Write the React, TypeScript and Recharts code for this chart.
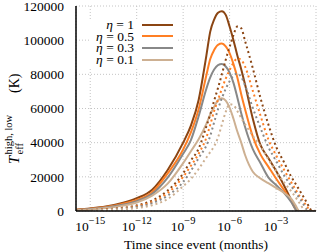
import { LineChart, Line, XAxis, YAxis, CartesianGrid, Label } from "recharts"

const SERIF = 'Liberation Serif, "Times New Roman", Times, serif'

// log10 of time since event (months)
const logTime = [
  -15.92, -15, -14, -13, -12, -11, -10, -9, -8.5, -8, -7.5, -7.25, -7, -6.75, -6.5, -6.25, -6,
  -5.75, -5.5, -5.25, -5, -4.5, -4, -3.5, -3, -2.5, -2, -1.75, -1.5, -1.25, -1, -0.75, -0.42,
]

// solid curves (T_eff high)
const eta1High = [
  800, 1500, 2600, 4500, 7500, 12500, 24000, 40000, 50000, 65000, 91000, 105000, 112000, 116000, 117000, 114800, 108000,
  100000, 91000, 83000, 74000, 54000, 38500, 31000, 23500, 15200, 6000, 1500, 0, 0, 0, 0, 0,
]
const eta05High = [
  700, 1300, 2300, 4000, 6500, 11000, 22000, 36000, 46000, 59500, 79500, 89000, 94200, 97300, 98000, 96300, 92400,
  86000, 78200, 68400, 59500, 43500, 33000, 26000, 19000, 12500, 5500, 1200, 0, 0, 0, 0, 0,
]
const eta03High = [
  600, 1100, 2000, 3500, 5800, 10000, 19500, 33500, 41500, 55500, 71600, 78200, 82800, 85400, 86000, 84600, 81000,
  75000, 66500, 57200, 49200, 36200, 28000, 19700, 15200, 10800, 5000, 1200, 0, 0, 0, 0, 0,
]
const eta01High = [
  500, 900, 1700, 3000, 5000, 9000, 16000, 28000, 35000, 42000, 51000, 56500, 61000, 64800, 66000, 64600, 60500,
  54000, 46500, 40000, 32800, 23000, 19000, 16300, 13500, 10700, 7000, 3500, 0, 0, 0, 0, 0,
]

// dotted curves (T_eff low)
const eta1Low = [
  300, 550, 1000, 1800, 3200, 6200, 12000, 22000, 29500, 36500, 49500, 56500, 64500, 72000, 80000, 88500, 96000,
  103000, 108000, 107000, 99500, 83500, 66000, 50800, 37800, 28800, 19800, 16100, 12400, 8600, 4700, 800, 0,
]
const eta05Low = [
  250, 500, 900, 1500, 2800, 5300, 10500, 20000, 26500, 33500, 43000, 50500, 58500, 65000, 71500, 77500, 82500,
  86800, 89200, 88500, 84500, 70300, 55700, 42000, 32700, 24400, 16500, 12700, 9000, 5800, 2600, 0, 0,
]
const eta03Low = [
  200, 400, 750, 1300, 2400, 4600, 9000, 17000, 23500, 31000, 38300, 44000, 51900, 59500, 66000, 71500, 76000,
  79200, 80500, 78500, 73500, 60300, 48500, 37500, 29400, 21200, 14300, 11100, 7700, 4300, 800, 0, 0,
]
const eta01Low = [
  150, 300, 550, 950, 1700, 3400, 7000, 14500, 18800, 24600, 31300, 34500, 37900, 43000, 50600, 58000, 62500,
  62000, 58500, 54500, 50800, 44000, 38000, 30300, 23300, 17000, 11300, 8200, 4800, 1500, 0, 0, 0,
]

const etaLabels = ["1", "0.5", "0.3", "0.1"]
const colors = ["#8b4513", "#ff7f24", "#888888", "#cdb092"]

const xMajorExp = [-15, -12, -9, -6, -3]
const yTicks = [0, 20000, 40000, 60000, 80000, 100000, 120000]
const yMinor = [10000, 30000, 50000, 70000, 90000, 110000]

const X_MIN = 10 ** -15.92
const X_MAX = 10 ** -0.42

const xMajor = xMajorExp.map((e) => 10 ** e)
const xMinor = [-15, -12, -9, -6, -3, 0]
  .flatMap((e) => [1, 2, 3, 4, 5, 6, 7, 8, 9].map((k) => k * 10 ** (e - 1)))
  .filter((v) => v >= X_MIN && v <= X_MAX)

const highSeries = [eta1High, eta05High, eta03High, eta01High]
const lowSeries = [eta1Low, eta05Low, eta03Low, eta01Low]

const data = logTime.map((lt, i) => {
  const row: Record<string, number> = { t: 10 ** lt }
  highSeries.forEach((s, j) => (row[`h${j}`] = s[i]))
  lowSeries.forEach((s, j) => (row[`l${j}`] = s[i]))
  return row
})

function PowerTick(props: any) {
  const { x, y, payload } = props
  const exp = Math.round(Math.log10(payload.value))
  return (
    <text x={x} y={y + 18} textAnchor="middle" fontFamily={SERIF} fontSize={13.5} fill="#000">
      10
      <tspan dy={-7} fontSize={10.5}>
        {"\u2212" + Math.abs(exp)}
      </tspan>
    </text>
  )
}

function YTitle() {
  return (
    <g transform="translate(19,164) rotate(-90)" fontFamily={SERIF} fill="#000">
      <text x={0} y={0} fontSize={14.5} fontStyle="italic">
        T
      </text>
      <text x={9.5} y={3.5} fontSize={10.5}>
        eff
      </text>
      <text x={9.5} y={-7.5} fontSize={10.5}>
        high, low
      </text>
      <text x={71} y={0} fontSize={14}>
        (K)
      </text>
    </g>
  )
}

const frame = { stroke: "#000", strokeWidth: 1.5 }
const tickStroke = { stroke: "#000", strokeWidth: 1 }

export default function App() {
  const xCommon = {
    type: "number" as const,
    scale: "log" as const,
    domain: [X_MIN, X_MAX],
    allowDataOverflow: true,
    interval: 0 as const,
  }
  const yCommon = {
    type: "number" as const,
    domain: [0, 120000],
    allowDataOverflow: true,
    interval: 0 as const,
  }
  return (
    <div style={{ position: "absolute", left: 0, top: 0, width: 318, height: 252, background: "#fff" }}>
      <LineChart width={318} height={252} data={data} margin={{ top: 6, right: 2, bottom: 0, left: 0 }}>
        <CartesianGrid xAxisId="x" yAxisId="y" stroke="#c4c4c4" strokeDasharray="1 2" />
        {highSeries.map((_, j) => (
          <Line
            key={`h${j}`}
            xAxisId="x"
            yAxisId="y"
            dataKey={`h${j}`}
            type="monotone"
            stroke={colors[j]}
            strokeWidth={2}
            dot={false}
            isAnimationActive={false}
          />
        ))}
        {lowSeries.map((_, j) => (
          <Line
            key={`l${j}`}
            xAxisId="x"
            yAxisId="y"
            dataKey={`l${j}`}
            type="monotone"
            stroke={colors[j]}
            strokeWidth={2}
            strokeDasharray="2 3"
            dot={false}
            isAnimationActive={false}
          />
        ))}
        <XAxis
          {...xCommon}
          xAxisId="x"
          dataKey="t"
          ticks={xMajor}
          height={41}
          tickSize={0}
          tickLine={false}
          axisLine={frame}
          tick={<PowerTick />}
        >
          <Label
            value="Time since event (months)"
            position="insideBottom"
            offset={3}
            style={{ fontFamily: SERIF, fontSize: 13.5, fill: "#000" }}
          />
        </XAxis>
        <XAxis {...xCommon} xAxisId="xbM" orientation="bottom" mirror height={0} ticks={xMajor} tick={false} tickSize={6} tickLine={tickStroke} axisLine={false} />
        <XAxis {...xCommon} xAxisId="xbm" orientation="bottom" mirror height={0} ticks={xMinor} tick={false} tickSize={3} tickLine={tickStroke} axisLine={false} />
        <XAxis {...xCommon} xAxisId="xtM" orientation="top" mirror height={0} ticks={xMajor} tick={false} tickSize={6} tickLine={tickStroke} axisLine={frame} />
        <XAxis {...xCommon} xAxisId="xtm" orientation="top" mirror height={0} ticks={xMinor} tick={false} tickSize={3} tickLine={tickStroke} axisLine={false} />
        <YAxis
          {...yCommon}
          yAxisId="y"
          width={76}
          ticks={yTicks}
          tickSize={0}
          tickMargin={12}
          tickLine={false}
          axisLine={frame}
          tick={{ fill: "#000", fontSize: 13.5, fontFamily: SERIF }}
        >
          <Label content={() => <YTitle />} />
        </YAxis>
        <YAxis {...yCommon} yAxisId="ylM" orientation="left" mirror width={0} ticks={yTicks} tick={false} tickSize={6} tickLine={tickStroke} axisLine={false} />
        <YAxis {...yCommon} yAxisId="ylm" orientation="left" mirror width={0} ticks={yMinor} tick={false} tickSize={3} tickLine={tickStroke} axisLine={false} />
        <YAxis {...yCommon} yAxisId="yrM" orientation="right" mirror width={0} ticks={yTicks} tick={false} tickSize={6} tickLine={tickStroke} axisLine={frame} />
        <YAxis {...yCommon} yAxisId="yrm" orientation="right" mirror width={0} ticks={yMinor} tick={false} tickSize={3} tickLine={tickStroke} axisLine={false} />
      </LineChart>
      <div
        style={{
          position: "absolute",
          left: 89,
          top: 19,
          width: 88,
          height: 48,
          background: "#fff",
          fontFamily: SERIF,
          fontSize: 13.5,
          color: "#000",
        }}
      >
        {etaLabels.map((lab, i) => (
          <div
            key={lab}
            style={{ position: "absolute", left: 0, top: i * 11.6, height: 11.6, display: "flex", alignItems: "center" }}
          >
            <span style={{ width: 45, textAlign: "right", lineHeight: "11.6px", whiteSpace: "nowrap" }}>
              <i>η</i> = {lab}
            </span>
            <span style={{ marginLeft: 8, width: 31, height: 2, background: colors[i] }} />
          </div>
        ))}
      </div>
    </div>
  )
}
